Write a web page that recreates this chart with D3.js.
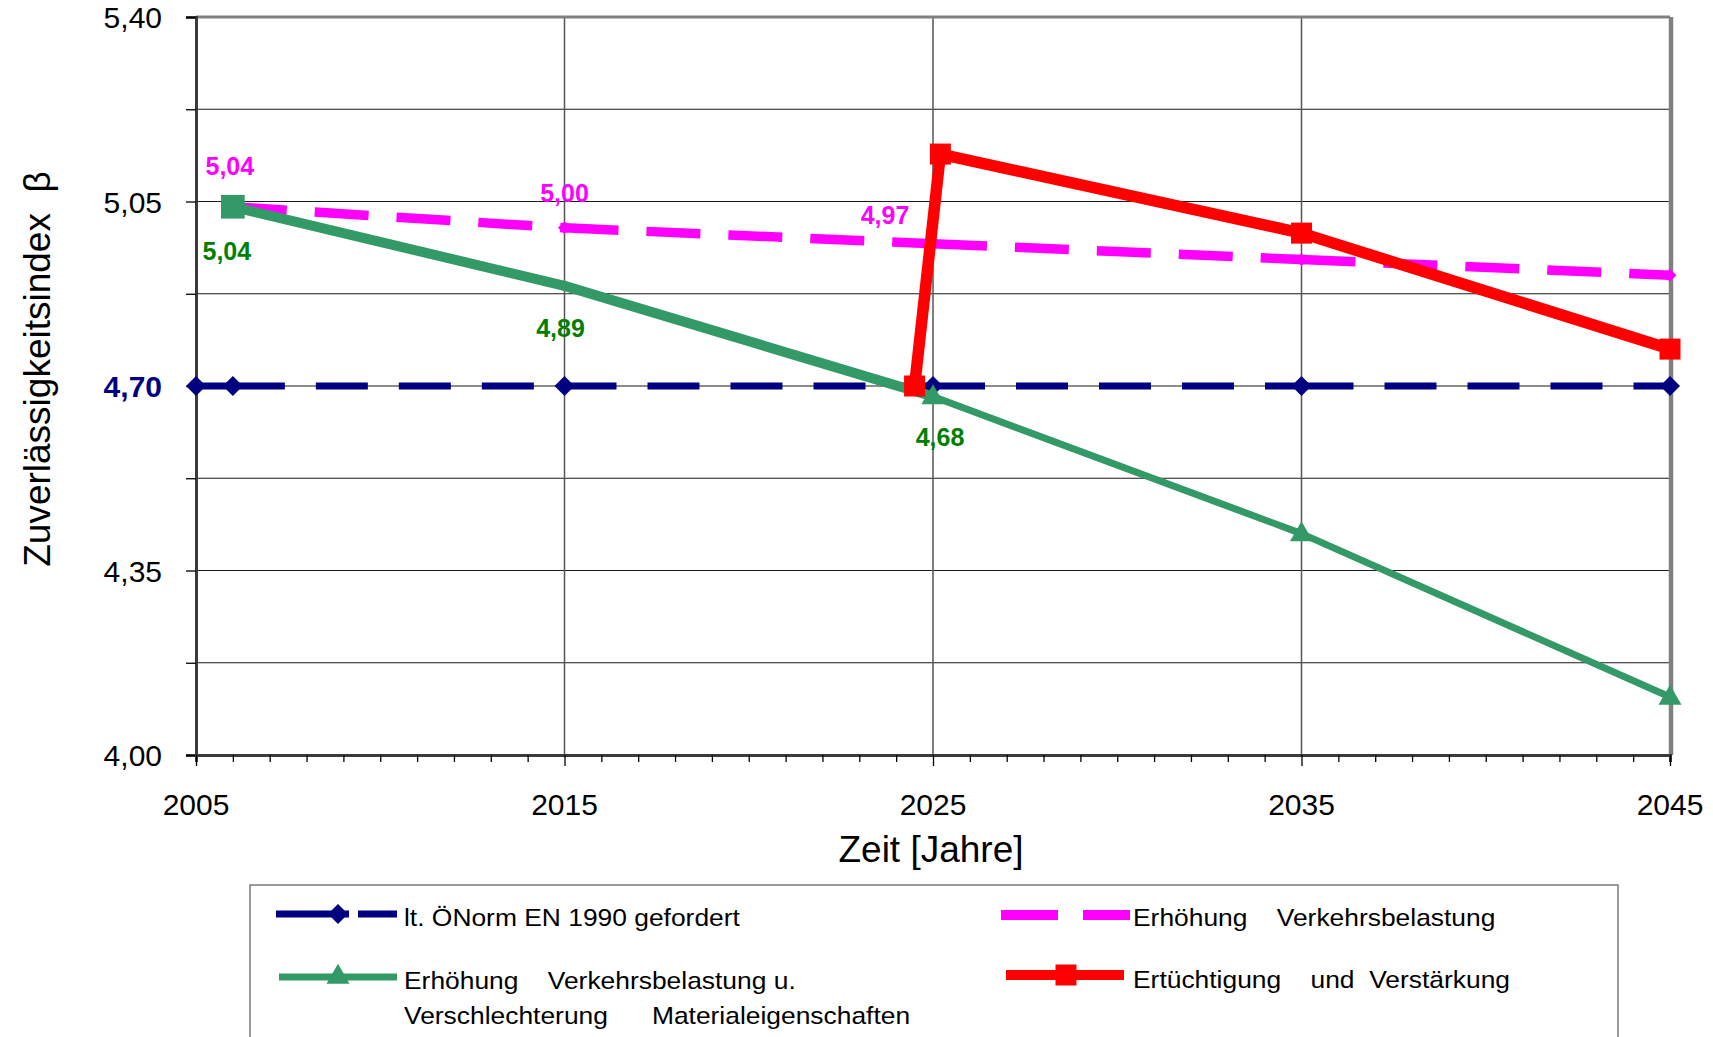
<!DOCTYPE html>
<html>
<head>
<meta charset="utf-8">
<script src="https://cdn.jsdelivr.net/npm/d3@7"></script>
<style>
  html, body { margin: 0; padding: 0; background: #fff; }
  svg { display: block; font-family: "Liberation Sans", Arial, sans-serif; }
  .pre { white-space: pre; }
</style>
</head>
<body>
<svg id="chart" width="1713" height="1037"></svg>
<script>
// ---- data ----
const yearTicks = [2005, 2015, 2025, 2035, 2045];
const betaTicks = [4.00, 4.35, 4.70, 5.05, 5.40];
const betaGrid = [4.175, 4.35, 4.525, 4.70, 4.875, 5.05, 5.225];

// required reliability index per ÖNorm EN 1990
const normYears = [2005, 2006, 2015, 2025, 2035, 2045];
const normValues = [4.70, 4.70, 4.70, 4.70, 4.70, 4.70];

// increased traffic load
const trafficYears = [2006, 2015, 2025, 2035, 2045];
const trafficValues = [5.04, 5.00, 4.97, 4.94, 4.91];

// increased traffic load plus material deterioration
const decayYears = [2006, 2015, 2025, 2035, 2045];
const decayValues = [5.04, 4.89, 4.68, 4.42, 4.11];
const decayMarkers = ["square", "none", "triangle", "triangle", "triangle"];

// retrofit and strengthening
const retrofitYears = [2024.5, 2025.2, 2035, 2045];
const retrofitValues = [4.70, 5.14, 4.99, 4.77];

const legendLabels = [
  "lt. ÖNorm EN 1990 gefordert",
  "Erhöhung    Verkehrsbelastung u.",
  "Verschlechterung      Materialeigenschaften",
  "Erhöhung    Verkehrsbelastung",
  "Ertüchtigung    und  Verstärkung"
];

// ---- styling ----
const NAVY = "#000080", MAGENTA = "#FF00FF", GREEN = "#339966",
      GREEN_TXT = "#008000", RED = "#FF0000";

const svg = d3.select("#chart");
const x = d3.scaleLinear().domain([2005, 2045]).range([196, 1670]);
const y = d3.scaleLinear().domain([4.0, 5.4]).range([755, 17]);
const fmt = v => d3.format(".2f")(v).replace(".", ",");

// ---- grid ----
const grid = svg.append("g");
grid.selectAll("line.h").data(betaGrid).join("line")
  .attr("x1", x(2005)).attr("x2", x(2045))
  .attr("y1", d => y(d)).attr("y2", d => y(d))
  .attr("stroke", "#1a1a1a").attr("stroke-width", 1.2);
grid.selectAll("line.v").data(yearTicks.slice(1, -1)).join("line")
  .attr("x1", d => x(d)).attr("x2", d => x(d))
  .attr("y1", y(5.4)).attr("y2", y(4.0))
  .attr("stroke", "#555").attr("stroke-width", 1.5);
// top and right frame
grid.append("line").attr("x1", x(2005)).attr("x2", x(2045))
  .attr("y1", y(5.4)).attr("y2", y(5.4))
  .attr("stroke", "#808080").attr("stroke-width", 3);
grid.append("line").attr("x1", x(2045) + 1).attr("x2", x(2045) + 1)
  .attr("y1", y(5.4)).attr("y2", y(4.0))
  .attr("stroke", "#808080").attr("stroke-width", 4.5);

// ---- axes ----
const yAxis = d3.axisLeft(y)
  .tickValues([4.0, 4.175, 4.35, 4.525, 4.70, 4.875, 5.05, 5.225, 5.40])
  .tickSize(10).tickPadding(24)
  .tickFormat(d => betaTicks.some(t => Math.abs(t - d) < 1e-6) ? fmt(d) : "");
const gy = svg.append("g").attr("transform", `translate(${x(2005)},0)`).call(yAxis);
gy.select(".domain").attr("stroke", "#3a3a3a").attr("stroke-width", 3);
gy.selectAll(".tick line").attr("stroke", "#000").attr("stroke-width", 1.3);
gy.selectAll(".tick text")
  .attr("font-family", "Liberation Sans, Arial, sans-serif")
  .attr("font-size", 30).attr("fill", "#000")
  .attr("dy", "0.36em");
gy.selectAll(".tick text").filter(d => Math.abs(d - 4.70) < 1e-6)
  .attr("fill", NAVY).attr("font-weight", "bold");

const xMinor = d3.range(2005, 2046);
const xAxis = d3.axisBottom(x).tickValues(xMinor)
  .tickSize(7).tickFormat("");
const gx = svg.append("g").attr("transform", `translate(0,${y(4.0)})`).call(xAxis);
gx.select(".domain").attr("stroke", "#3a3a3a").attr("stroke-width", 3);
gx.selectAll(".tick line").attr("stroke", "#000").attr("stroke-width", 1.3)
  .attr("y2", d => yearTicks.includes(d) ? 11 : 7);

svg.append("g").selectAll("text").data(yearTicks).join("text")
  .attr("x", d => x(d)).attr("y", 815)
  .attr("text-anchor", "middle").attr("font-size", 30).attr("fill", "#000")
  .text(d => d);

// axis titles
svg.append("text").attr("x", 931).attr("y", 862)
  .attr("text-anchor", "middle").attr("font-size", 37).attr("fill", "#000")
  .text("Zeit [Jahre]");
svg.append("text").attr("class", "pre")
  .attr("transform", "translate(50,369) rotate(-90)")
  .attr("text-anchor", "middle").attr("font-size", 37).attr("fill", "#000")
  .text("Zuverlässigkeitsindex  β");

// ---- series ----
const sym = (type, size) => d3.symbol().type(type).size(size)();
const diamondPath = r => `M0,${-r}L${r},0L0,${r}L${-r},0Z`;

function dashedSegments(g, xs, vs, color, width, dash) {
  for (let i = 0; i < xs.length - 1; i++) {
    g.append("line")
      .attr("x1", x(xs[i])).attr("y1", y(vs[i]))
      .attr("x2", x(xs[i + 1])).attr("y2", y(vs[i + 1]))
      .attr("stroke", color).attr("stroke-width", width)
      .attr("stroke-dasharray", dash).attr("stroke-linecap", "butt");
  }
}

// norm requirement
const gNorm = svg.append("g");
dashedSegments(gNorm, normYears, normValues, NAVY, 7, "52,31");
gNorm.selectAll("path").data(normYears.map((d, i) => [d, normValues[i]])).join("path")
  .attr("d", diamondPath(10))
  .attr("transform", d => `translate(${x(d[0])},${y(d[1])})`)
  .attr("fill", NAVY);

// traffic load
const gTraffic = svg.append("g");
dashedSegments(gTraffic, trafficYears, trafficValues, MAGENTA, 9.5, "54,28");
gTraffic.selectAll("path").data(trafficYears.map((d, i) => [d, trafficValues[i]])).join("path")
  .attr("d", diamondPath(6.5))
  .attr("transform", d => `translate(${x(d[0])},${y(d[1])})`)
  .attr("fill", MAGENTA);

// traffic load + deterioration
const gDecay = svg.append("g");
for (let i = 0; i < decayYears.length - 1; i++) {
  gDecay.append("line")
    .attr("x1", x(decayYears[i])).attr("y1", y(decayValues[i]))
    .attr("x2", x(decayYears[i + 1])).attr("y2", y(decayValues[i + 1]))
    .attr("stroke", GREEN).attr("stroke-width", i < 2 ? 10 : 7)
    .attr("stroke-linecap", "round");
}
decayYears.forEach((d, i) => {
  const m = decayMarkers[i];
  if (m === "none") return;
  gDecay.append("path")
    .attr("d", m === "square" ? sym(d3.symbolSquare, 560) : sym(d3.symbolTriangle, 230))
    .attr("transform", `translate(${x(d)},${y(decayValues[i]) + (m === "triangle" ? 1 : 0)})`)
    .attr("fill", GREEN);
});

// retrofit
const gRetro = svg.append("g");
gRetro.append("path")
  .datum(retrofitYears.map((d, i) => [d, retrofitValues[i]]))
  .attr("d", d3.line().x(d => x(d[0])).y(d => y(d[1])))
  .attr("fill", "none").attr("stroke", RED).attr("stroke-width", 11.5)
  .attr("stroke-linejoin", "round");
gRetro.selectAll("path.m").data(retrofitYears.map((d, i) => [d, retrofitValues[i]])).join("path")
  .attr("class", "m")
  .attr("d", sym(d3.symbolSquare, 441))
  .attr("transform", d => `translate(${x(d[0])},${y(d[1])})`)
  .attr("fill", RED);

// ---- value labels ----
const trafficLabelOffsets = [[-3, -32], [0, -26], [-48, -20]];
const decayLabelOffsets = [[-6, 53], [-4, 51], [7, 49]];
const labels = svg.append("g").attr("font-weight", "bold").attr("font-size", 25)
  .attr("text-anchor", "middle");
trafficLabelOffsets.forEach((o, i) => {
  labels.append("text")
    .attr("x", x(trafficYears[i]) + o[0]).attr("y", y(trafficValues[i]) + o[1])
    .attr("fill", MAGENTA).text(fmt(trafficValues[i]));
});
decayLabelOffsets.forEach((o, i) => {
  labels.append("text")
    .attr("x", x(decayYears[i]) + o[0]).attr("y", y(decayValues[i]) + o[1])
    .attr("fill", GREEN_TXT).text(fmt(decayValues[i]));
});

// ---- legend ----
const lg = svg.append("g");
lg.append("rect").attr("x", 250).attr("y", 885).attr("width", 1368).attr("height", 200)
  .attr("fill", "#fff").attr("stroke", "#7a7a7a").attr("stroke-width", 1.5);

// navy entry
lg.append("line").attr("x1", 276).attr("x2", 349).attr("y1", 914).attr("y2", 914)
  .attr("stroke", NAVY).attr("stroke-width", 7);
lg.append("line").attr("x1", 358).attr("x2", 397).attr("y1", 914).attr("y2", 914)
  .attr("stroke", NAVY).attr("stroke-width", 7);
lg.append("path").attr("d", diamondPath(10)).attr("transform", "translate(338,914)")
  .attr("fill", NAVY);
// green entry
lg.append("line").attr("x1", 279).attr("x2", 397).attr("y1", 977).attr("y2", 977)
  .attr("stroke", GREEN).attr("stroke-width", 7);
lg.append("path").attr("d", sym(d3.symbolTriangle, 230)).attr("transform", "translate(338,977)")
  .attr("fill", GREEN);
// magenta entry
lg.append("line").attr("x1", 1001).attr("x2", 1058).attr("y1", 915).attr("y2", 915)
  .attr("stroke", MAGENTA).attr("stroke-width", 10);
lg.append("line").attr("x1", 1083).attr("x2", 1130).attr("y1", 915).attr("y2", 915)
  .attr("stroke", MAGENTA).attr("stroke-width", 10);
// red entry
lg.append("line").attr("x1", 1006).attr("x2", 1124).attr("y1", 975).attr("y2", 975)
  .attr("stroke", RED).attr("stroke-width", 10);
lg.append("path").attr("d", sym(d3.symbolSquare, 441)).attr("transform", "translate(1066,975)")
  .attr("fill", RED);

const legendPos = [[404, 926], [404, 989], [404, 1024], [1133, 926], [1133, 988]];
legendLabels.forEach((t, i) => {
  lg.append("text").attr("class", "pre")
    .attr("transform", `translate(${legendPos[i][0]},${legendPos[i][1]}) scale(1.1,1)`)
    .attr("font-size", 24).attr("fill", "#000").text(t);
});
</script>
</body>
</html>
